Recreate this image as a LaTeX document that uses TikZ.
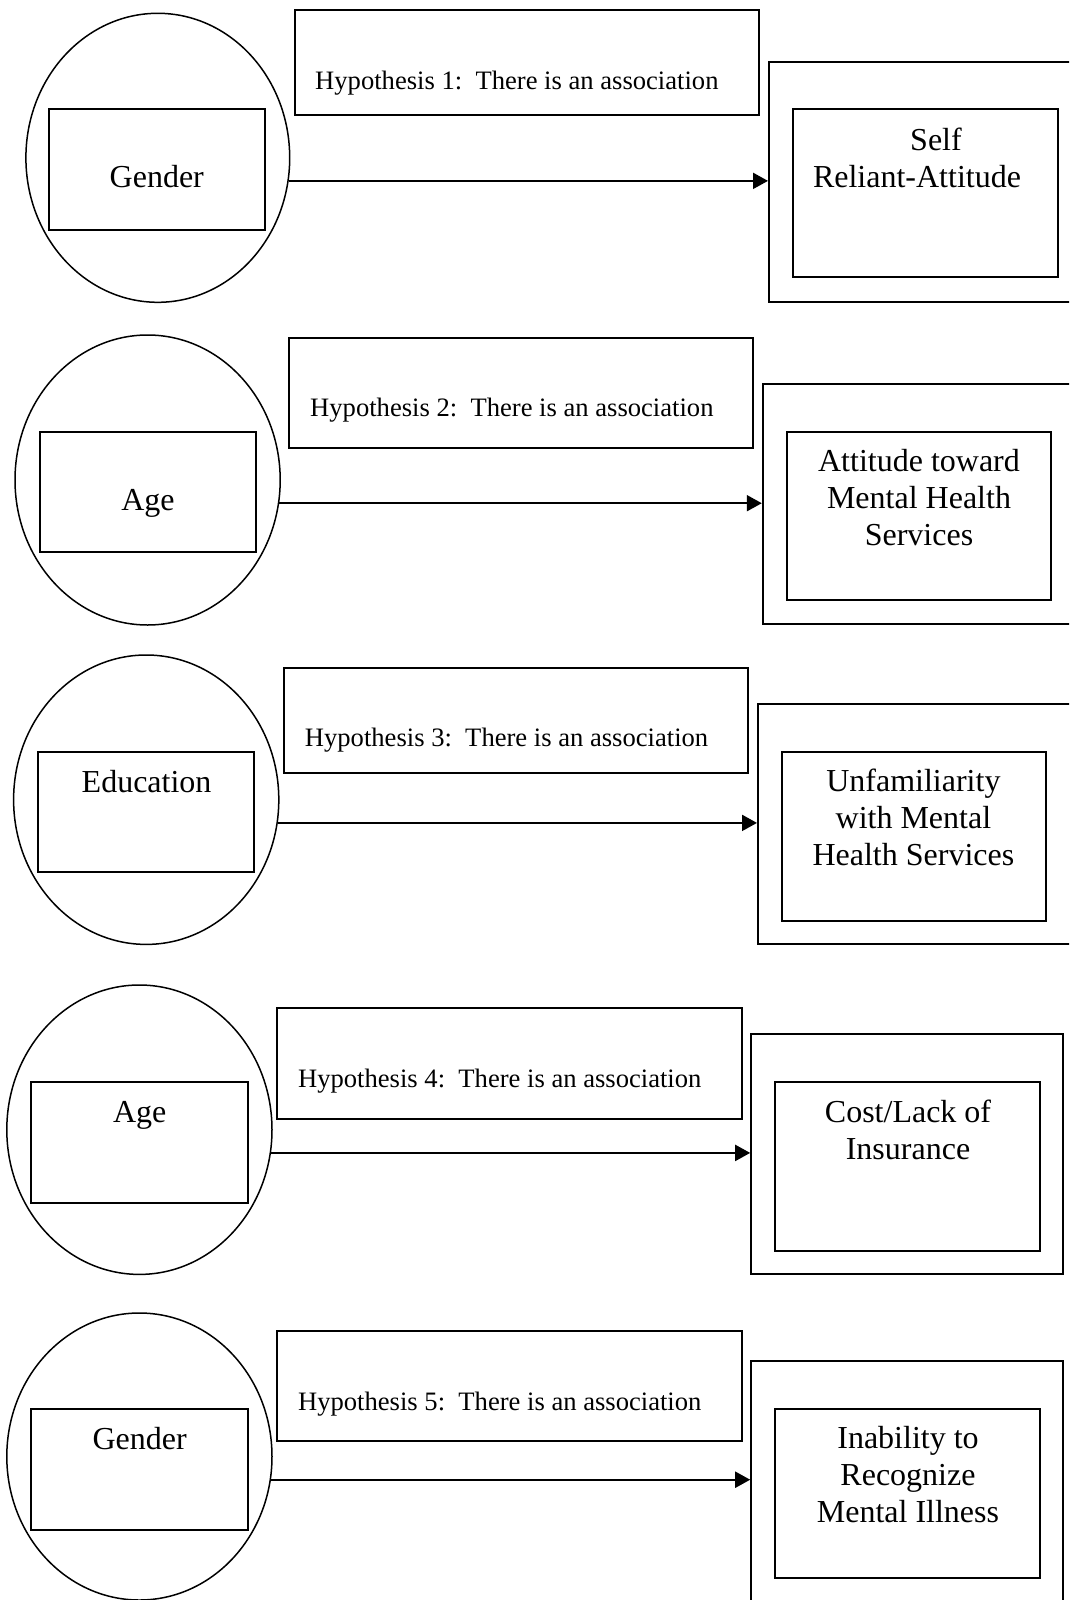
\documentclass[tikz,border=0pt]{standalone}
\usepackage{fontspec}
\setmainfont{Liberation Serif}
\usetikzlibrary{shapes.geometric,arrows.meta}
\tikzset{
  ell/.style={draw, ellipse, line width=1.5pt, inner sep=0pt},
  bx/.style={draw, rectangle, line width=2pt, inner sep=0pt},
  arr/.style={line width=2pt, -{Triangle[length=15pt,width=16pt]}},
  big/.style={inner sep=0pt, font=\fontsize{32}{37}\selectfont},
  bigm/.style={inner sep=0pt, align=center, font=\fontsize{32}{37}\selectfont},
  hyp/.style={inner sep=0pt, anchor=base west, font=\fontsize{26.6}{30}\selectfont},
}
\begin{document}
\begin{tikzpicture}[x=1pt,y=-1pt]
\useasboundingbox (0,0) rectangle (1069,1600);
\clip (0,0) rectangle (1069,1600);
\fill[white] (0,0) rectangle (1069,1600);

% ---------- Block 1 ----------
\node[ell, minimum width=263.8pt, minimum height=289pt] (e1) at (157.8,157.8) {};
\node[bx, minimum width=216.1pt, minimum height=120.7pt] (g1) at (157.2,169.7) {};
\node[big, anchor=base] (t1) at (156.8,187) {Gender};
\node[bx, minimum width=464.2pt, minimum height=105pt] (h1) at (527.3,62.5) {};
\node[hyp] (ht1) at (315,89.3) {Hypothesis 1:\ \ There is an association};
\node[bx, minimum width=331pt, minimum height=240.6pt] (o1) at (934.5,182) {};
\node[bx, minimum width=265.2pt, minimum height=168pt] (i1) at (925.4,193.3) {};
\node[bigm] (r1) at (917,157.5) {\hspace*{38pt}Self\\Reliant-Attitude};
\draw[arr] (e1.-10.5) -- (e1.-10.5 -| o1.west);

% ---------- Block 2 ----------
\node[ell, minimum width=265.2pt, minimum height=290pt] (e2) at (147.6,480) {};
\node[bx, minimum width=216.8pt, minimum height=120.6pt] (g2) at (147.9,492) {};
\node[big, anchor=base] (t2) at (148,510) {Age};
\node[bx, minimum width=463.6pt, minimum height=109.4pt] (h2) at (520.8,393) {};
\node[hyp] (ht2) at (310,416.9) {Hypothesis 2:\ \ There is an association};
\node[bx, minimum width=337.2pt, minimum height=240pt] (o2) at (931.4,504.3) {};
\node[bx, minimum width=263.8pt, minimum height=167.7pt] (i2) at (919.2,516.2) {};
\node[bigm] (r2) at (919,497.4) {Attitude toward\\Mental Health\\Services};
\draw[arr] (e2.-10.5) -- (e2.-10.5 -| o2.west);

% ---------- Block 3 ----------
\node[ell, minimum width=265.2pt, minimum height=289.4pt] (e3) at (146.2,799.7) {};
\node[bx, minimum width=216.8pt, minimum height=120pt] (g3) at (145.9,812.3) {};
\node[big, anchor=base] (t3) at (146.6,792.7) {Education};
\node[bx, minimum width=464.2pt, minimum height=104.4pt] (h3) at (515.7,720.5) {};
\node[hyp] (ht3) at (304.7,746.9) {Hypothesis 3:\ \ There is an association};
\node[bx, minimum width=342pt, minimum height=240pt] (o3) at (929,824.3) {};
\node[bx, minimum width=264.5pt, minimum height=168.7pt] (i3) at (914.2,836.7) {};
\node[bigm] (r3) at (913.4,817.7) {Unfamiliarity\\with Mental\\Health Services};
\draw[arr] (e3.-10.5) -- (e3.-10.5 -| o3.west);

% ---------- Block 4 ----------
\node[ell, minimum width=265.2pt, minimum height=289.4pt] (e4) at (139.4,1129.7) {};
\node[bx, minimum width=217.4pt, minimum height=121pt] (g4) at (139.4,1142.2) {};
\node[big, anchor=base] (t4) at (139.7,1122.7) {Age};
\node[bx, minimum width=464.9pt, minimum height=111pt] (h4) at (509.3,1063.8) {};
\node[hyp] (ht4) at (297.9,1087.6) {Hypothesis 4:\ \ There is an association};
\node[bx, minimum width=312.2pt, minimum height=240.3pt] (o4) at (907.3,1154.2) {};
\node[bx, minimum width=265.2pt, minimum height=169pt] (i4) at (907.6,1166.2) {};
\node[bigm] (r4) at (908,1129.4) {Cost/Lack of\\Insurance};
\draw[arr] (e4.-10.5) -- (e4.-10.5 -| o4.west);

% ---------- Block 5 ----------
\node[ell, minimum width=265.2pt, minimum height=287pt] (e5) at (139.4,1456.5) {};
\node[bx, minimum width=217.4pt, minimum height=120.7pt] (g5) at (139.4,1469.7) {};
\node[big, anchor=base] (t5) at (139.7,1449.3) {Gender};
\node[bx, minimum width=464.9pt, minimum height=110.3pt] (h5) at (509.3,1385.9) {};
\node[hyp] (ht5) at (297.9,1410.3) {Hypothesis 5:\ \ There is an association};
\node[bx, minimum width=312.2pt, minimum height=289pt] (o5) at (907.3,1505.5) {};
\node[bx, minimum width=265.2pt, minimum height=168.4pt] (i5) at (907.6,1493.5) {};
\node[bigm] (r5) at (908,1474.5) {Inability to\\Recognize\\Mental Illness};
\draw[arr] (e5.-10.5) -- (e5.-10.5 -| o5.west);
\end{tikzpicture}
\end{document}
